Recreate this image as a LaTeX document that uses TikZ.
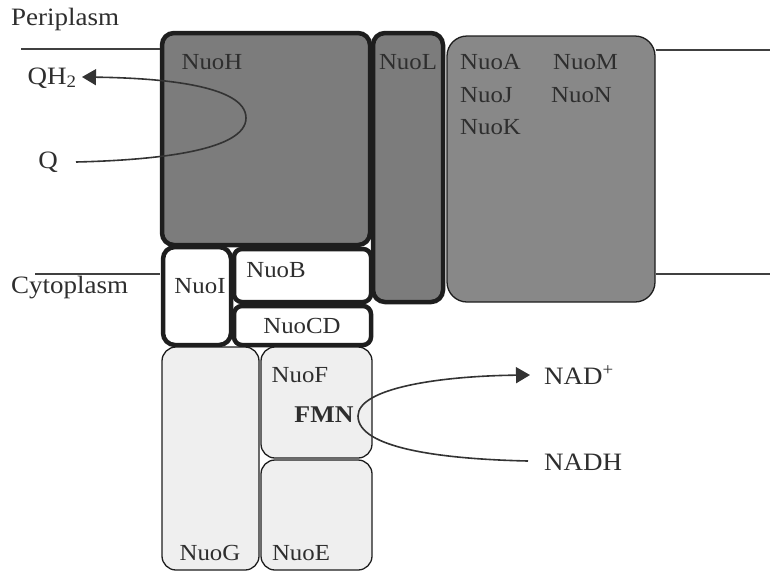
\documentclass[tikz,border=0pt]{standalone}
\usepackage{fontspec}
\setmainfont{Liberation Serif}[FakeStretch=1.08]
\usetikzlibrary{arrows.meta}
\definecolor{darkfill}{HTML}{7C7C7C}
\definecolor{midfill}{HTML}{888888}
\definecolor{lightfill}{HTML}{EFEFEF}
\definecolor{edge}{HTML}{1E1E1E}
\definecolor{txt}{HTML}{2E2E2E}
\tikzset{
  thickbox/.style={draw=edge, line width=4.5pt, rounded corners=12pt, minimum width=#1, inner sep=0pt},
  thinbox/.style={draw=edge, line width=1.3pt, rounded corners=14pt, inner sep=0pt},
  lbl/.style={font=\fontsize{23}{26}\selectfont, text=txt, inner sep=0pt},
  big/.style={font=\fontsize{25}{28}\selectfont, text=txt, inner sep=0pt},
  memb/.style={draw=black!75, line width=1.3pt},
  flow/.style={draw=black!80, line width=1.6pt},
  tip/.style={-{Triangle[length=14pt,width=16pt]}}
}
\begin{document}
\begin{tikzpicture}[x=1pt,y=-1pt]
\useasboundingbox (0,0) rectangle (773,574);
% membrane lines
\coordinate (tl) at (21,49);
\coordinate (tr) at (770,50);
\coordinate (bl) at (35,274);
\coordinate (br) at (770,274);
% membrane boxes
\node[thickbox=208pt, fill=darkfill, minimum height=212pt] (nuoH) at (266,139) {};
\node[thickbox=70pt, fill=darkfill, minimum height=269pt] (nuoL) at (408,167.5) {};
\node[thinbox, fill=midfill, minimum width=208pt, minimum height=266pt, rounded corners=20pt] (nuoA) at (551,169) {};
\draw[memb] (tl) -- (tl -| nuoH.west);
\draw[memb] (bl) -- (bl -| nuoH.west);
\draw[memb] (nuoA.east |- tr) -- (tr);
\draw[memb] (nuoA.east |- br) -- (br);
% peripheral white boxes
\node[thickbox=68pt, fill=white, minimum height=98pt] (nuoI) at (197,296) {};
\node[thickbox=137pt, fill=white, minimum height=53pt, rounded corners=8pt] (nuoB) at (302.5,275.5) {};
\node[thickbox=137pt, fill=white, minimum height=39pt, rounded corners=8pt] (nuoCD) at (302.5,325.5) {};
% light boxes
\node[thinbox, fill=lightfill, minimum width=97pt, minimum height=223pt] (nuoG) at (210.5,458.5) {};
\node[thinbox, fill=lightfill, minimum width=111pt, minimum height=111pt] (nuoF) at (316.5,402.5) {};
\node[thinbox, fill=lightfill, minimum width=111pt, minimum height=110pt] (nuoE) at (316.5,515) {};
% labels
\node[big, anchor=west] (peri) at (11,19) {Periplasm};
\node[big, anchor=west] (cyto) at (11,288) {Cytoplasm};
\node[lbl] (tH) at (212,62) {NuoH};
\node[lbl] (tL) at (408,62) {NuoL};
\node[lbl, anchor=west] (tA) at (460,62) {NuoA};
\node[lbl, anchor=west] (tM) at (553,62) {NuoM};
\node[lbl, anchor=west] (tJ) at (460,95) {NuoJ};
\node[lbl, anchor=west] (tN) at (551,95) {NuoN};
\node[lbl, anchor=west] (tK) at (460,127) {NuoK};
\node[lbl] (tI) at (200,286) {NuoI};
\node[lbl] (tB) at (276,270) {NuoB};
\node[lbl] (tCD) at (302,326) {NuoCD};
\node[lbl] (tF) at (300,375) {NuoF};
\node[lbl, font=\fontsize{24}{26}\selectfont\bfseries] (fmn) at (324,415) {FMN};
\node[lbl] (tG) at (210,553) {NuoG};
\node[lbl] (tE) at (301,553) {NuoE};
% Q / QH2
\node[big] (qh2) at (52,78) {QH\textsubscript{2}};
\node[big] (q) at (48,162) {Q};
\coordinate (qend) at (76,162);
\coordinate (qtip) at (82,77);
\draw[flow, tip] (qend) .. controls (160,160) and (246,150) .. (246,118)
  .. controls (246,85) and (160,78) .. (qtip);
% NAD+ / NADH
\node[big, anchor=west] (nad) at (544,375) {NAD\textsuperscript{+}};
\node[big, anchor=west] (nadh) at (544,462) {NADH};
\coordinate (nadhend) at (528,461);
\coordinate (nadtip) at (530,375);
\coordinate (fmnl) at (358,416);
\draw[flow, tip] (nadhend) .. controls (440,459) and (358,448) .. (fmnl)
  .. controls (358,388) and (440,376) .. (nadtip);
\end{tikzpicture}
\end{document}
